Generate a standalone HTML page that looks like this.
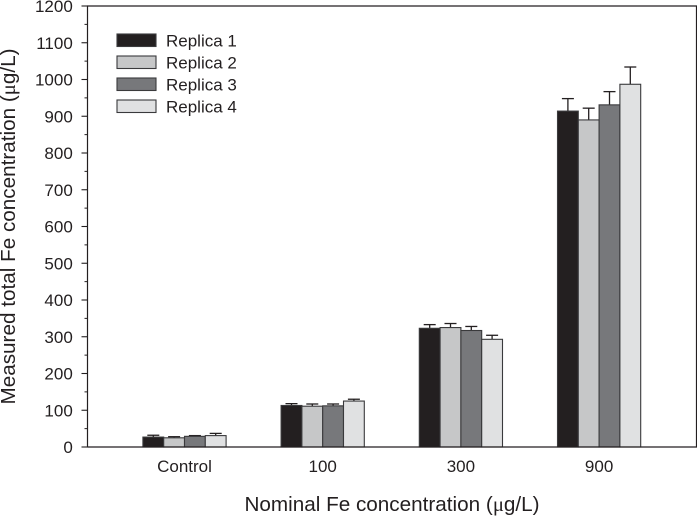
<!DOCTYPE html>
<html>
<head>
<meta charset="utf-8">
<style>
html,body{margin:0;padding:0;background:#fff;width:697px;height:516px;overflow:hidden}
svg{display:block}
text{font-family:"Liberation Sans",sans-serif;fill:#231f20}
</style>
</head>
<body>
<svg id="chart" width="697" height="516" viewBox="0 0 697 516">
<g id="bars"></g>
<g id="axes"></g>
<g id="legend"></g>
<text x="392" y="511" font-size="20.7" text-anchor="middle">Nominal Fe concentration (<tspan font-family="Liberation Serif">μ</tspan>g/L)</text>
<text transform="translate(15,226.5) rotate(-90)" font-size="20.7" text-anchor="middle">Measured total Fe concentration (<tspan font-family="Liberation Serif">μ</tspan>g/L)</text>
</svg>
<script>
const categories = ['Control', '100', '300', '900'];
const seriesNames = ['Replica 1', 'Replica 2', 'Replica 3', 'Replica 4'];
const replica1 = [27, 113, 323, 914];
const replica2 = [25, 111, 325, 890];
const replica3 = [29, 112, 317, 931];
const replica4 = [31, 125, 293, 987];
const errorTop1 = [32, 118, 333, 948];
const errorTop2 = [28, 117, 336, 922];
const errorTop3 = [31, 117, 328, 967];
const errorTop4 = [37, 130, 304, 1034];
const yTicks = [0, 100, 200, 300, 400, 500, 600, 700, 800, 900, 1000, 1100, 1200];
const yMinorTicks = [50, 150, 250, 350, 450, 550, 650, 750, 850, 950, 1050, 1150];

const seriesValues = [replica1, replica2, replica3, replica4];
const seriesErrors = [errorTop1, errorTop2, errorTop3, errorTop4];
const fills = ['#231f20', '#c6c7c8', '#77787b', '#e0e1e2'];
const NS = 'http://www.w3.org/2000/svg';
const axisColor = '#231f20';
const y = v => 447 - v * 441 / 1200;
const groupX = i => 184.5 + i * 138.2;
const barW = 20.8;
function mk(tag, attrs, parent) {
  const el = document.createElementNS(NS, tag);
  for (const k in attrs) el.setAttribute(k, attrs[k]);
  parent.appendChild(el);
  return el;
}
const barsG = document.getElementById('bars');
const axesG = document.getElementById('axes');
const legendG = document.getElementById('legend');

seriesValues.forEach((vals, s) => {
  vals.forEach((v, c) => {
    const x = groupX(c) + (s - 2) * barW;
    const cx = x + barW / 2;
    const errLine = mk('line', {x1: cx, x2: cx, y1: y(v), y2: y(seriesErrors[s][c]), stroke: axisColor, 'stroke-width': 1.3}, barsG);
    
    
    const cap = mk('line', {x1: cx - 6, x2: cx + 6, y1: y(seriesErrors[s][c]), y2: y(seriesErrors[s][c]), stroke: axisColor, 'stroke-width': 1.3}, barsG);
    
    
    const bar = mk('rect', {x: x, y: y(v), width: barW, height: 447 - y(v), fill: fills[s], stroke: '#3a3a3c', 'stroke-width': 1.1}, barsG);
    
    
  });
});

const frame = mk('path', {d: 'M87.5 447V6H696.5V447H87.5', fill: 'none', stroke: axisColor, 'stroke-width': 1.2}, axesG);



yTicks.forEach(t => {
  const tick = mk('line', {x1: 81.5, x2: 87.5, y1: y(t), y2: y(t), stroke: axisColor, 'stroke-width': 1.1}, axesG);
  
  
  const label = mk('text', {x: 72.8, y: y(t) + 6.2, 'font-size': 17, 'text-anchor': 'end'}, axesG);
  label.textContent = t;
  
  
});
yMinorTicks.forEach(t => {
  const tick = mk('line', {x1: 84.5, x2: 87.5, y1: y(t), y2: y(t), stroke: axisColor, 'stroke-width': 1}, axesG);
  
  
});
categories.forEach((c, i) => {
  const label = mk('text', {x: groupX(i), y: 472, 'font-size': 17, 'text-anchor': 'middle'}, axesG);
  label.textContent = c;
  
  
});

seriesNames.forEach((n, s) => {
  const top = 34 + s * 22;
  const swatch = mk('rect', {x: 117, y: top, width: 39, height: 12.5, fill: fills[s], stroke: '#3a3a3c', 'stroke-width': 1.1}, legendG);
  
  
  const label = mk('text', {x: 166, y: top + 12.5, 'font-size': 17}, legendG);
  label.textContent = n;
  
  
});
</script>
</body>
</html>
